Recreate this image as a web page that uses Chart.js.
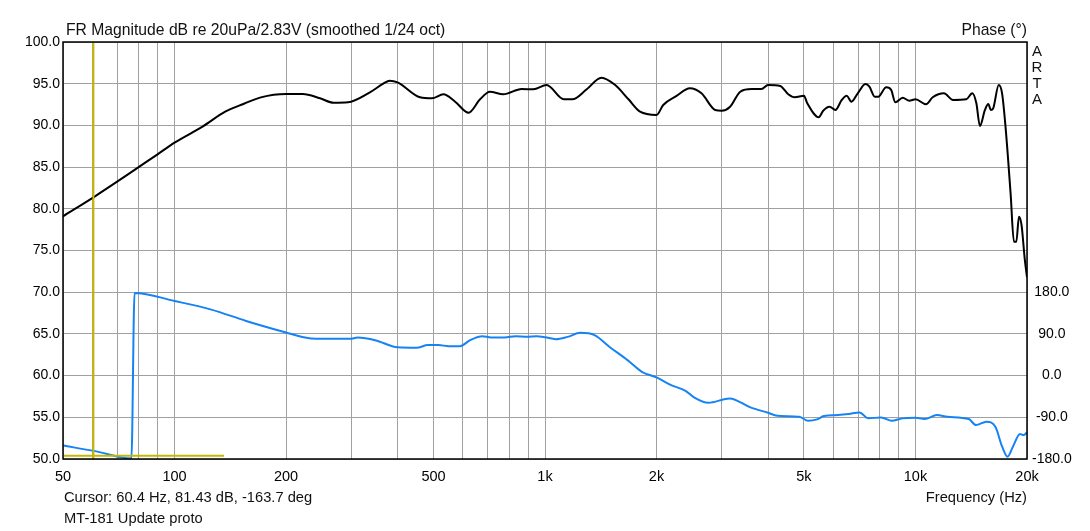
<!DOCTYPE html>
<html>
<head>
<meta charset="utf-8">
<title>FR Magnitude</title>
<script src="https://cdn.jsdelivr.net/npm/chart.js@4.4.1/dist/chart.umd.min.js"></script>
<style>
  html, body { margin: 0; padding: 0; background: #fff; }
  canvas { display: block; }
</style>
</head>
<body>
<canvas id="frChart" width="1090" height="531"></canvas>
<script>
// magnitude (black)
const magFreq = [50, 61, 70, 80, 90, 100, 119, 137, 154, 171, 200, 222, 247, 269, 294, 335, 366, 381, 400, 460, 495, 532, 572, 622, 668, 710, 771, 865, 930, 1010, 1124, 1185, 1296, 1420, 1547, 1680, 1805, 2000, 2085, 2265, 2460, 2645, 2880, 3000, 3160, 3365, 3615, 3840, 4000, 4315, 4535, 4725, 5000, 5105, 5480, 5635, 5860, 6080, 6325, 6520, 6717, 6985, 7330, 7510, 7765, 7930, 8340, 8600, 8825, 9235, 9625, 10000, 10675, 11130, 11935, 12625, 13715, 14235, 14600, 14925, 15400, 15720, 15985, 16210, 16775, 17130, 17500, 18060, 18440, 18720, 19020, 19330, 19730, 20000];
const magDb = [79.1, 81.5, 83.25, 85.0, 86.53, 87.93, 89.85, 91.65, 92.6, 93.36, 93.76, 93.76, 93.25, 92.72, 92.77, 93.9, 95.0, 95.36, 95.16, 93.37, 93.25, 93.73, 92.84, 91.52, 93.13, 94.04, 93.73, 94.36, 94.33, 94.84, 93.13, 93.13, 94.33, 95.72, 94.84, 93.13, 91.64, 91.25, 92.45, 93.53, 94.45, 93.85, 91.85, 91.76, 92.24, 94.04, 94.36, 94.36, 94.84, 94.72, 93.73, 93.37, 93.56, 92.65, 90.97, 91.76, 92.24, 91.85, 93.05, 93.56, 92.84, 93.85, 94.96, 94.64, 93.44, 93.44, 94.57, 94.24, 92.77, 93.32, 92.96, 93.13, 92.53, 93.37, 93.85, 93.05, 93.13, 93.85, 92.65, 89.93, 91.85, 92.57, 91.85, 92.05, 94.84, 93.85, 89.85, 81.86, 76.06, 76.06, 79.06, 78.06, 73.9, 71.8];

// phase (blue), degrees
const phFreq = [50, 61, 76.5, 78, 100, 125, 156, 200, 225, 241, 298, 312, 348, 400, 450, 483, 516, 550, 590, 628, 677, 715, 778, 833, 894, 950, 1000, 1069, 1150, 1246, 1360, 1500, 1670, 1826, 2000, 2190, 2395, 2525, 2760, 3150, 3585, 4000, 4240, 4860, 5130, 5425, 5660, 6180, 6600, 7060, 7460, 8080, 8630, 9210, 10000, 10580, 11430, 12200, 13930, 14560, 15540, 16430, 17140, 17720, 18320, 19160, 19580, 20000];
const phDeg = [-151, -163, -178.8, 178.5, 161, 143, 118, 93, 82, 79.4, 79.4, 82, 76.5, 61, 60, 65.8, 65.8, 63.6, 63.6, 76.5, 85, 82.3, 82.3, 85, 83.6, 85, 83, 78.7, 83.6, 92.3, 87.3, 60.8, 33.4, 8.2, -3.9, -20.5, -32.8, -47, -58.7, -49.2, -68.6, -80.2, -86.7, -88.9, -97.5, -94.5, -87.4, -85.2, -83, -79.4, -92.3, -90.2, -97.5, -92.3, -90.9, -93.8, -85.2, -88.9, -93.8, -106.7, -99.6, -110.4, -153.5, -175, -153.5, -126.2, -128.3, -122.5];

// cursor
const cursorFreq = 60.4;
const cursorDb = [50, 100];
const cursorHFreq = [50, 136];
const cursorHPhase = [-173, -173];

const xTickValues = [50, 60, 70, 80, 90, 100, 200, 300, 400, 500, 600, 700, 800, 900, 1000, 2000, 3000, 4000, 5000, 6000, 7000, 8000, 9000, 10000, 20000];
const xTickLabels = { 50: '50', 100: '100', 200: '200', 500: '500', 1000: '1k', 2000: '2k', 5000: '5k', 10000: '10k', 20000: '20k' };
const phaseTickMax = 180;

const titleText = 'FR Magnitude dB re 20uPa/2.83V (smoothed 1/24 oct)';
const phaseText = 'Phase (\u00b0)';
const cursorText = 'Cursor: 60.4 Hz, 81.43 dB, -163.7 deg';
const nameText = 'MT-181 Update proto';
const freqText = 'Frequency (Hz)';

const FONT = '"Liberation Sans", Arial, sans-serif';
Chart.defaults.font.family = FONT;
Chart.defaults.font.size = 14;
Chart.defaults.color = '#000';

function pairs(xs, ys) {
    return xs.map((x, i) => ({ x: x, y: ys[i] }));
}

const artaText = {
    id: 'artaText',
    afterDraw(chart) {
        const ctx = chart.ctx;
        const a = chart.chartArea;
        ctx.save();
        ctx.strokeStyle = '#000';
        ctx.lineWidth = 1.5;
        ctx.strokeRect(a.left, a.top, a.right - a.left, a.bottom - a.top);

        ctx.fillStyle = '#111';
        ctx.textBaseline = 'middle';

        ctx.font = '15.7px ' + FONT;
        ctx.textAlign = 'left';
        ctx.fillText(titleText, a.left + 3, 31);
        ctx.textAlign = 'right';
        ctx.fillText(phaseText, a.right, 31);

        ctx.font = '14.7px ' + FONT;
        ctx.textAlign = 'left';
        ctx.fillText(cursorText, a.left + 1, 498);
        ctx.fillText(nameText, a.left + 1, 519);
        ctx.textAlign = 'right';
        ctx.fillText(freqText, a.right, 498);

        ctx.textAlign = 'center';
        ctx.font = '15px ' + FONT;
        ['A', 'R', 'T', 'A'].forEach((ch, i) => {
            ctx.fillText(ch, a.right + 10, 52 + i * 16);
        });
        ctx.restore();
    }
};

const ctx = document.getElementById('frChart').getContext('2d');

new Chart(ctx, {
    type: 'line',
    data: {
        datasets: [
            {
                label: 'cursor',
                data: pairs([cursorFreq, cursorFreq], cursorDb),
                yAxisID: 'y',
                borderColor: '#c4b800',
                borderWidth: 2,
                pointRadius: 0
            },
            {
                label: 'cursor h',
                data: pairs(cursorHFreq, cursorHPhase),
                yAxisID: 'y2',
                borderColor: '#c4b800',
                borderWidth: 2,
                pointRadius: 0
            },
            {
                label: 'Phase',
                data: pairs(phFreq, phDeg),
                yAxisID: 'y2',
                borderColor: '#1683f5',
                borderWidth: 2,
                pointRadius: 0,
                cubicInterpolationMode: 'monotone'
            },
            {
                label: 'Magnitude',
                data: pairs(magFreq, magDb),
                yAxisID: 'y',
                borderColor: '#000',
                borderWidth: 2,
                pointRadius: 0,
                cubicInterpolationMode: 'monotone'
            }
        ]
    },
    options: {
        responsive: false,
        animation: false,
        layout: { padding: { top: 42, left: 0, right: 0, bottom: 0 } },
        plugins: {
            legend: { display: false },
            tooltip: { enabled: false }
        },
        scales: {
            x: {
                type: 'logarithmic',
                min: 50,
                max: 20000,
                afterBuildTicks: (scale) => {
                    scale.ticks = xTickValues.map(v => ({ value: v }));
                },
                afterFit: (scale) => { scale.height = 72; },
                grid: { color: '#a0a0a0', drawTicks: false },
                border: { display: false },
                ticks: {
                    autoSkip: false,
                    maxRotation: 0,
                    padding: 9,
                    font: { size: 14.5 },
                    callback: (value) => xTickLabels[value] || ''
                }
            },
            y: {
                position: 'left',
                min: 50,
                max: 100,
                afterFit: (scale) => { scale.width = 63; },
                grid: { color: '#a0a0a0', drawTicks: false },
                border: { display: false },
                ticks: {
                    stepSize: 5,
                    padding: 3,
                    callback: (value) => value.toFixed(1)
                }
            },
            y2: {
                position: 'right',
                min: -180,
                max: 720,
                afterFit: (scale) => { scale.width = 63; },
                grid: { drawOnChartArea: false, drawTicks: false },
                border: { display: false },
                ticks: {
                    stepSize: 90,
                    padding: 5,
                    crossAlign: 'center',
                    callback: (value) => value <= phaseTickMax ? value.toFixed(1) : ''
                }
            }
        }
    },
    plugins: [artaText]
});
</script>
</body>
</html>
